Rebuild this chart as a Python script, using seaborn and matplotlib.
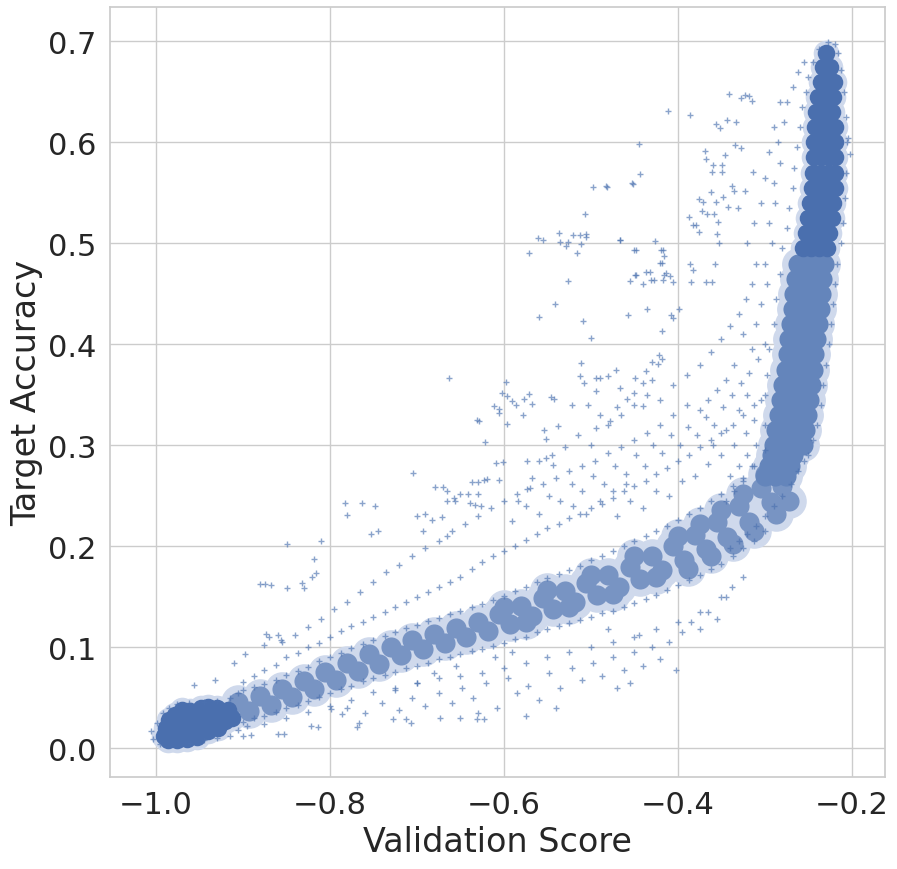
import matplotlib
matplotlib.use("Agg")
import matplotlib.pyplot as plt
import seaborn as sns
import pandas as pd

# ---- data (Validation Score, Target Accuracy) ----
blob_core = [(-0.990,0.012),(-0.988,0.020),(-0.985,0.028),(-0.982,0.010),(-0.980,0.018),(-0.978,0.033),
             (-0.975,0.025),(-0.972,0.012),(-0.970,0.038),(-0.968,0.020),(-0.965,0.030),(-0.962,0.014),
             (-0.960,0.037),(-0.957,0.024),(-0.954,0.016),(-0.952,0.032),(-0.948,0.040),(-0.946,0.022),
             (-0.943,0.030),(-0.940,0.017),(-0.937,0.036),(-0.934,0.026),(-0.930,0.040),(-0.928,0.020),
             (-0.925,0.032),(-0.920,0.027),(-0.917,0.038),(-0.912,0.030),(-0.986,0.008),(-0.975,0.008),
             (-0.964,0.009),(-0.952,0.011),(-0.940,0.041)]

band_core = [(-0.905,0.046),(-0.893,0.037),(-0.880,0.052),(-0.868,0.043),(-0.855,0.059),(-0.843,0.051),
             (-0.830,0.067),(-0.818,0.059),(-0.805,0.076),(-0.793,0.068),(-0.780,0.085),(-0.768,0.077),
             (-0.755,0.093),(-0.743,0.084),(-0.730,0.100),(-0.718,0.092),(-0.705,0.107),(-0.693,0.098),
             (-0.680,0.113),(-0.668,0.104),(-0.655,0.119),(-0.643,0.110),(-0.630,0.125),(-0.618,0.116),
             (-0.605,0.133),(-0.593,0.123),(-0.580,0.141),(-0.568,0.131),(-0.555,0.149),(-0.543,0.138),
             (-0.530,0.156),(-0.518,0.145),(-0.505,0.164),(-0.493,0.152),(-0.480,0.172),(-0.468,0.160),
             (-0.455,0.180),(-0.443,0.168),(-0.430,0.190),(-0.418,0.177),(-0.405,0.200),(-0.393,0.186),
             (-0.380,0.211),(-0.368,0.197),(-0.355,0.224),(-0.343,0.209),(-0.330,0.240),(-0.318,0.224),
             (-0.305,0.258),(-0.293,0.244),
             (-0.600,0.140),(-0.575,0.125),(-0.550,0.157),(-0.525,0.140),(-0.500,0.172),(-0.475,0.153),
             (-0.450,0.190),(-0.425,0.170),(-0.400,0.210),(-0.388,0.178),(-0.375,0.222),(-0.362,0.190),
             (-0.350,0.236),(-0.337,0.202),(-0.325,0.252),(-0.312,0.215),(-0.300,0.272),(-0.287,0.232),
             (-0.280,0.260),(-0.272,0.245)]

column_core = [(-0.300,0.270),(-0.288,0.270),(-0.276,0.270),
               (-0.295,0.280),(-0.283,0.280),(-0.271,0.280),
               (-0.292,0.290),(-0.280,0.290),(-0.268,0.290),
               (-0.290,0.300),(-0.278,0.300),(-0.266,0.300),(-0.256,0.300),
               (-0.287,0.315),(-0.276,0.315),(-0.265,0.315),(-0.254,0.315),
               (-0.284,0.330),(-0.273,0.330),(-0.262,0.330),(-0.252,0.330),
               (-0.281,0.345),(-0.270,0.345),(-0.259,0.345),(-0.249,0.345),
               (-0.279,0.360),(-0.268,0.360),(-0.257,0.360),(-0.247,0.360),
               (-0.276,0.375),(-0.266,0.375),(-0.255,0.375),(-0.245,0.375),
               (-0.274,0.390),(-0.264,0.390),(-0.253,0.390),(-0.243,0.390),
               (-0.272,0.405),(-0.262,0.405),(-0.251,0.405),(-0.241,0.405),
               (-0.270,0.420),(-0.260,0.420),(-0.249,0.420),(-0.239,0.420),
               (-0.268,0.435),(-0.258,0.435),(-0.247,0.435),(-0.237,0.435),
               (-0.266,0.450),(-0.256,0.450),(-0.246,0.450),(-0.236,0.450),
               (-0.264,0.465),(-0.254,0.465),(-0.244,0.465),(-0.234,0.465),
               (-0.262,0.480),(-0.252,0.480),(-0.242,0.480),(-0.232,0.480)]

column_top = [(-0.256,0.495),(-0.247,0.495),(-0.238,0.495),(-0.229,0.495),
              (-0.253,0.510),(-0.244,0.510),(-0.235,0.510),(-0.226,0.510),
              (-0.250,0.525),(-0.241,0.525),(-0.232,0.525),(-0.223,0.525),
              (-0.248,0.540),(-0.239,0.540),(-0.230,0.540),(-0.222,0.540),
              (-0.246,0.555),(-0.237,0.555),(-0.228,0.555),(-0.220,0.555),
              (-0.245,0.570),(-0.236,0.570),(-0.227,0.570),(-0.219,0.570),
              (-0.244,0.585),(-0.235,0.585),(-0.226,0.585),(-0.219,0.585),
              (-0.243,0.600),(-0.234,0.600),(-0.225,0.600),(-0.219,0.600),
              (-0.242,0.615),(-0.233,0.615),(-0.224,0.615),(-0.219,0.615),
              (-0.241,0.630),(-0.232,0.630),(-0.223,0.630),
              (-0.239,0.645),(-0.230,0.645),(-0.222,0.645),
              (-0.236,0.660),(-0.228,0.660),(-0.221,0.660),
              (-0.233,0.675),(-0.225,0.675),
              (-0.230,0.688)]

band_fringe = [(-1.005,0.017),(-1.003,0.009),(-0.995,0.004),(-0.998,0.025),(-0.992,0.035),(-0.985,0.040),
               (-0.975,0.044),(-0.962,0.045),(-0.945,0.046),(-0.930,0.047),(-0.915,0.050),(-0.905,0.055),
               (-0.960,0.005),(-0.945,0.008),(-0.930,0.010),(-0.915,0.012),(-0.905,0.018),(-0.895,0.022),
               (-0.900,0.058),(-0.900,0.066),(-0.900,0.026),(-0.887,0.061),(-0.887,0.072),(-0.887,0.030),
               (-0.875,0.064),(-0.875,0.078),(-0.875,0.032),(-0.875,0.024),(-0.862,0.068),(-0.862,0.083),
               (-0.862,0.036),(-0.850,0.073),(-0.850,0.090),(-0.850,0.040),(-0.850,0.030),(-0.837,0.077),
               (-0.837,0.094),(-0.837,0.043),(-0.825,0.081),(-0.825,0.100),(-0.825,0.047),(-0.825,0.036),
               (-0.812,0.086),(-0.812,0.104),(-0.812,0.051),(-0.800,0.090),(-0.800,0.110),(-0.800,0.055),
               (-0.800,0.042),(-0.787,0.094),(-0.787,0.116),(-0.787,0.059),(-0.775,0.099),(-0.775,0.121),
               (-0.775,0.062),(-0.775,0.048),(-0.762,0.103),(-0.762,0.125),(-0.762,0.067),(-0.750,0.107),
               (-0.750,0.130),(-0.750,0.070),(-0.750,0.056),(-0.737,0.111),(-0.737,0.135),(-0.737,0.073),
               (-0.725,0.115),(-0.725,0.140),(-0.725,0.076),(-0.725,0.060),(-0.712,0.119),(-0.712,0.145),
               (-0.712,0.080),(-0.700,0.122),(-0.700,0.150),(-0.700,0.082),(-0.700,0.065),(-0.687,0.126),
               (-0.687,0.155),(-0.687,0.085),(-0.675,0.129),(-0.675,0.160),(-0.675,0.088),(-0.675,0.070),
               (-0.662,0.133),(-0.662,0.165),(-0.662,0.090),(-0.650,0.136),(-0.650,0.170),(-0.650,0.093),
               (-0.650,0.072),(-0.637,0.140),(-0.637,0.178),(-0.637,0.096),(-0.625,0.143),(-0.625,0.185),
               (-0.625,0.098),(-0.625,0.075),(-0.612,0.147),(-0.612,0.190),(-0.612,0.101),(-0.600,0.151),
               (-0.600,0.195),(-0.600,0.104),(-0.600,0.080),(-0.587,0.156),(-0.587,0.200),(-0.587,0.108),
               (-0.575,0.160),(-0.575,0.206),(-0.575,0.110),(-0.575,0.085),(-0.562,0.165),(-0.562,0.212),
               (-0.562,0.115),(-0.550,0.169),(-0.550,0.218),(-0.550,0.118),(-0.550,0.090),(-0.537,0.173),
               (-0.537,0.222),(-0.537,0.121),(-0.525,0.177),(-0.525,0.228),(-0.525,0.124),(-0.525,0.095),
               (-0.512,0.181),(-0.512,0.232),(-0.512,0.127),(-0.500,0.186),(-0.500,0.238),(-0.500,0.130),
               (-0.500,0.100),(-0.487,0.190),(-0.487,0.242),(-0.487,0.134),(-0.475,0.195),(-0.475,0.248),
               (-0.475,0.136),(-0.475,0.105),(-0.462,0.200),(-0.462,0.255),(-0.462,0.140),(-0.450,0.205),
               (-0.450,0.260),(-0.450,0.144),(-0.450,0.110),(-0.437,0.210),(-0.437,0.265),(-0.437,0.148),
               (-0.425,0.215),(-0.425,0.272),(-0.425,0.152),(-0.425,0.118),(-0.412,0.220),(-0.412,0.278),
               (-0.412,0.157),(-0.400,0.226),(-0.400,0.285),(-0.400,0.162),(-0.400,0.125),(-0.387,0.232),
               (-0.387,0.290),(-0.387,0.167),(-0.375,0.238),(-0.375,0.298),(-0.375,0.172),(-0.375,0.135),
               (-0.362,0.245),(-0.362,0.305),(-0.362,0.178),(-0.350,0.252),(-0.350,0.312),(-0.350,0.183),
               (-0.350,0.150),(-0.337,0.260),(-0.337,0.320),(-0.337,0.190),(-0.325,0.268),(-0.325,0.330),
               (-0.325,0.198),(-0.325,0.170),(-0.312,0.280),(-0.312,0.340),(-0.312,0.205),(-0.300,0.295),
               (-0.300,0.350),(-0.300,0.215)]

upper_cloud = [(-0.590,0.225),(-0.575,0.240),(-0.560,0.232),(-0.548,0.250),(-0.535,0.245),(-0.522,0.262),
               (-0.510,0.255),(-0.498,0.270),(-0.485,0.262),(-0.472,0.280),(-0.460,0.272),(-0.448,0.290),
               (-0.438,0.280),(-0.428,0.300),(-0.418,0.292),(-0.408,0.310),(-0.398,0.300),(-0.388,0.318),
               (-0.378,0.310),(-0.368,0.328),(-0.358,0.320),(-0.348,0.338),(-0.338,0.350),(-0.328,0.362),
               (-0.318,0.372),(-0.308,0.385),(-0.300,0.400),(-0.310,0.420),(-0.305,0.440),(-0.298,0.460),
               (-0.300,0.480),(-0.292,0.500),(-0.295,0.520),(-0.288,0.540),(-0.290,0.560),(-0.283,0.580),
               (-0.285,0.600),(-0.278,0.620),(-0.275,0.640),(-0.268,0.655),(-0.262,0.670),(-0.255,0.680),
               (-0.470,0.230),(-0.455,0.245),(-0.440,0.238),(-0.425,0.255),(-0.410,0.250),(-0.395,0.265),
               (-0.380,0.270),(-0.365,0.282),(-0.350,0.290),(-0.335,0.300),(-0.322,0.312),(-0.312,0.325),
               (-0.345,0.315),(-0.360,0.300),(-0.330,0.335),(-0.320,0.350),(-0.315,0.395),(-0.325,0.410),
               (-0.335,0.380),(-0.345,0.365),(-0.355,0.355),(-0.365,0.345),(-0.375,0.335),(-0.390,0.340),
               (-0.405,0.330),(-0.420,0.320),(-0.435,0.312),(-0.450,0.305),(-0.465,0.298),(-0.480,0.292),
               (-0.495,0.285),(-0.510,0.280),(-0.525,0.275),(-0.540,0.268),(-0.555,0.262),(-0.570,0.258),
               (-0.585,0.252),(-0.600,0.245),(-0.615,0.238),(-0.630,0.230),(-0.645,0.222),(-0.660,0.215),
               (-0.675,0.205),(-0.690,0.198),(-0.705,0.190),(-0.720,0.182),(-0.735,0.175),(-0.750,0.165),
               (-0.765,0.155),(-0.780,0.145),(-0.795,0.138),(-0.810,0.128),(-0.825,0.120),(-0.840,0.112),
               (-0.855,0.105),(-0.870,0.110),
               (-0.480,0.320),(-0.465,0.330),(-0.450,0.340),(-0.435,0.350),(-0.420,0.345),(-0.405,0.360),
               (-0.390,0.370),(-0.375,0.380),(-0.362,0.392),(-0.350,0.405),(-0.340,0.418),(-0.330,0.430),
               (-0.322,0.445),(-0.315,0.460),(-0.310,0.480),(-0.320,0.500),(-0.312,0.520),(-0.305,0.540),
               (-0.300,0.565),(-0.295,0.590),(-0.290,0.615),(-0.283,0.640),(-0.500,0.300),(-0.515,0.310),
               (-0.530,0.298),(-0.545,0.290),(-0.560,0.285),(-0.520,0.240),(-0.505,0.232),(-0.490,0.245),
               (-0.475,0.255),(-0.460,0.262)]

column_fringe = [(-0.250,0.290),(-0.245,0.305),(-0.240,0.320),(-0.236,0.340),(-0.233,0.360),(-0.230,0.380),
                 (-0.226,0.400),(-0.224,0.420),(-0.222,0.440),(-0.220,0.460),(-0.217,0.480),(-0.213,0.500),
                 (-0.210,0.520),(-0.208,0.545),(-0.207,0.570),(-0.206,0.600),(-0.207,0.625),(-0.209,0.650),
                 (-0.212,0.672),(-0.216,0.688),(-0.220,0.697),(-0.228,0.699),(-0.238,0.692),(-0.245,0.680),
                 (-0.250,0.665),(-0.300,0.320),(-0.305,0.345),(-0.298,0.370),(-0.295,0.395),(-0.290,0.420),
                 (-0.287,0.445),(-0.283,0.470),(-0.280,0.495),(-0.275,0.515),(-0.272,0.535),(-0.268,0.555),
                 (-0.266,0.575),(-0.263,0.595),(-0.260,0.615),(-0.257,0.635),(-0.253,0.650),(-0.310,0.300),
                 (-0.320,0.290),(-0.330,0.280),(-0.340,0.270),(-0.315,0.280),(-0.325,0.265),(-0.335,0.255),
                 (-0.345,0.245),(-0.290,0.240),(-0.280,0.250),(-0.270,0.262),(-0.262,0.275),(-0.255,0.285),
                 (-0.300,0.230),(-0.310,0.220),(-0.320,0.212),(-0.330,0.205),(-0.340,0.198)]

lower_cloud = [(-0.780,0.040),(-0.760,0.035),(-0.740,0.045),(-0.720,0.038),(-0.705,0.050),(-0.690,0.042),
               (-0.675,0.055),(-0.660,0.045),(-0.648,0.060),(-0.635,0.050),(-0.620,0.065),(-0.608,0.040),
               (-0.595,0.070),(-0.585,0.055),(-0.572,0.062),(-0.560,0.048),(-0.548,0.075),(-0.535,0.060),
               (-0.522,0.080),(-0.510,0.068),(-0.498,0.085),(-0.487,0.072),(-0.475,0.090),(-0.462,0.078),
               (-0.450,0.095),(-0.440,0.082),(-0.430,0.100),(-0.420,0.088),(-0.410,0.105),(-0.402,0.078),
               (-0.395,0.115),(-0.385,0.125),(-0.375,0.118),(-0.365,0.135),(-0.355,0.128),(-0.345,0.150),
               (-0.338,0.160),(-0.650,0.030),(-0.630,0.035),(-0.575,0.032),(-0.540,0.040),(-0.700,0.065),
               (-0.680,0.075),(-0.655,0.082),(-0.725,0.058),(-0.610,0.090),(-0.590,0.095),(-0.470,0.060),
               (-0.455,0.065),(-0.445,0.112),(-0.480,0.118),(-0.900,0.012),(-0.890,0.013),(-0.859,0.014),
               (-0.852,0.014),(-0.821,0.022),(-0.814,0.021),(-0.799,0.039),(-0.786,0.034),(-0.769,0.021),
               (-0.766,0.025),(-0.727,0.029),(-0.712,0.029),(-0.707,0.025),(-0.673,0.030),(-0.631,0.029),
               (-0.623,0.029)]

outliers = [(-0.411,0.631),(-0.386,0.627),(-0.356,0.618),(-0.445,0.598),(-0.444,0.569),(-0.451,0.559),
            (-0.497,0.556),(-0.481,0.556),(-0.507,0.529),(-0.536,0.510),(-0.561,0.505),(-0.555,0.503),
            (-0.535,0.501),(-0.526,0.501),(-0.520,0.508),(-0.512,0.508),(-0.506,0.509),(-0.505,0.506),
            (-0.511,0.499),(-0.528,0.497),(-0.516,0.490),(-0.571,0.490),(-0.467,0.503),(-0.426,0.502),
            (-0.448,0.493),(-0.417,0.493),(-0.416,0.487),(-0.418,0.481),(-0.432,0.472),(-0.414,0.471),
            (-0.409,0.468),(-0.448,0.469),(-0.455,0.463),(-0.440,0.460),(-0.427,0.464),(-0.417,0.464),
            (-0.526,0.463),(-0.541,0.440),(-0.559,0.427),(-0.509,0.423),(-0.500,0.406),(-0.457,0.429),
            (-0.436,0.435),(-0.408,0.429),(-0.405,0.426),(-0.418,0.413),(-0.399,0.435),(-0.386,0.480),
            (-0.383,0.474),(-0.385,0.462),(-0.368,0.462),(-0.361,0.462),(-0.369,0.591),(-0.360,0.578),
            (-0.349,0.578),(-0.376,0.544),(-0.371,0.541),(-0.387,0.526),(-0.383,0.518),(-0.358,0.529),
            (-0.362,0.551),(-0.348,0.546),(-0.355,0.509),(-0.357,0.480),(-0.341,0.648),(-0.328,0.644),
            (-0.323,0.647),(-0.318,0.646),(-0.315,0.641),(-0.333,0.620),(-0.344,0.622),(-0.351,0.614),
            (-0.334,0.597),(-0.327,0.594),(-0.346,0.587),(-0.368,0.584),(-0.361,0.571),(-0.349,0.571),
            (-0.314,0.571),(-0.338,0.557),(-0.336,0.552),(-0.323,0.552),(-0.356,0.541),(-0.342,0.536),
            (-0.331,0.535),(-0.372,0.532),(-0.366,0.529),(-0.379,0.518),(-0.376,0.511),(-0.354,0.521),
            (-0.353,0.500),(-0.482,0.557),(-0.453,0.560),(-0.467,0.503),(-0.450,0.493),(-0.419,0.493),
            (-0.420,0.481),(-0.449,0.469),(-0.437,0.472),(-0.431,0.464),(-0.416,0.469),(-0.405,0.462),
            (-0.202,0.588),(-0.205,0.604),
            (-0.663,0.367),(-0.631,0.325),(-0.629,0.324),(-0.611,0.339),(-0.606,0.336),(-0.605,0.332),
            (-0.622,0.303),(-0.598,0.363),(-0.602,0.352),(-0.596,0.349),(-0.590,0.344),(-0.586,0.340),
            (-0.577,0.346),(-0.571,0.351),(-0.568,0.341),(-0.578,0.330),(-0.596,0.321),(-0.554,0.315),
            (-0.552,0.306),(-0.538,0.319),(-0.546,0.348),(-0.542,0.346),(-0.522,0.340),(-0.503,0.340),
            (-0.511,0.382),(-0.512,0.369),(-0.508,0.362),(-0.494,0.367),(-0.489,0.367),(-0.480,0.369),
            (-0.471,0.375),(-0.494,0.354),(-0.467,0.357),(-0.449,0.367),(-0.437,0.374),(-0.430,0.383),
            (-0.422,0.389),(-0.418,0.385),(-0.423,0.381),(-0.430,0.365),(-0.440,0.362),(-0.450,0.352),
            (-0.458,0.346),(-0.440,0.339),(-0.470,0.338),(-0.490,0.330),(-0.478,0.324),(-0.494,0.317),
            (-0.704,0.273),(-0.782,0.243),(-0.763,0.243),(-0.748,0.240),(-0.679,0.259),(-0.670,0.259),
            (-0.665,0.255),(-0.657,0.248),(-0.650,0.252),(-0.641,0.252),(-0.636,0.264),(-0.630,0.264),
            (-0.623,0.266),(-0.619,0.267),(-0.630,0.252),(-0.609,0.283),(-0.601,0.284),(-0.605,0.266),
            (-0.573,0.285),(-0.568,0.268),(-0.552,0.287),(-0.543,0.281),(-0.573,0.257),(-0.584,0.245),
            (-0.665,0.245),(-0.656,0.245),(-0.639,0.243),(-0.633,0.241),(-0.626,0.240),
            (-0.849,0.202),(-0.810,0.205),(-0.818,0.187),(-0.820,0.170),(-0.816,0.174),(-0.880,0.163),
            (-0.874,0.163),(-0.868,0.162),(-0.849,0.159),(-0.832,0.164),(-0.830,0.159),(-0.780,0.231),
            (-0.752,0.212),(-0.744,0.215),(-0.700,0.230),(-0.690,0.232),(-0.693,0.215),(-0.683,0.226),
            (-0.671,0.229),(-0.665,0.210),(-0.956,0.063),(-0.932,0.068),(-0.910,0.085),(-0.897,0.093),
            (-0.876,0.102),(-0.873,0.113),(-0.860,0.112),(-0.856,0.107)]

def frame(points):
    return pd.DataFrame(points, columns=["Validation Score", "Target Accuracy"])

blob_df = frame(blob_core)
band_df = frame(band_core)
column_df = frame(column_core)
top_df = frame(column_top)
spread = frame(band_fringe + upper_cloud + column_fringe + lower_cloud + outliers)

sns.set_theme(style="whitegrid", font_scale=2)
blue = "#4c72b0"
halo_tone = "#cfd9ec"     # thin outer part of the point cloud
band_tone = "#7894c3"     # deep blue thinned by white gaps between points
column_tone = "#6485bb"
dense_tone = "#4a6fae"

fig = plt.figure(figsize=(8.97, 8.70), dpi=100)
ax = fig.add_axes([0.1226, 0.1057, 0.864, 0.8851])

common = dict(x="Validation Score", y="Target Accuracy", ax=ax, linewidth=0, alpha=1.0)
# soft outer halo, drawn from the same dense samples
sns.scatterplot(data=band_df, s=620, color=halo_tone, **common)
sns.scatterplot(data=column_df, s=560, color=halo_tone, **common)
sns.scatterplot(data=top_df, s=340, color=halo_tone, **common)
sns.scatterplot(data=blob_df, s=340, color=halo_tone, **common)
# dense core
sns.scatterplot(data=band_df, s=210, color=band_tone, **common)
sns.scatterplot(data=column_df, s=210, color=column_tone, **common)
sns.scatterplot(data=top_df, s=160, color=dense_tone, **common)
sns.scatterplot(data=blob_df, s=160, color=dense_tone, **common)
# individual sparse points
sns.scatterplot(data=spread, x="Validation Score", y="Target Accuracy", ax=ax,
                color=blue, marker="+", s=24, alpha=0.65, linewidth=1.0)

ax.set_xlim(-1.0525, -0.162)
ax.set_ylim(-0.0284, 0.734)
ax.set_xticks([-1.0, -0.8, -0.6, -0.4, -0.2])
ax.set_yticks([0.0, 0.1, 0.2, 0.3, 0.4, 0.5, 0.6, 0.7])
ax.set_xlabel("Validation Score")
ax.set_ylabel("Target Accuracy")

fig.savefig("out.png", dpi=100)
